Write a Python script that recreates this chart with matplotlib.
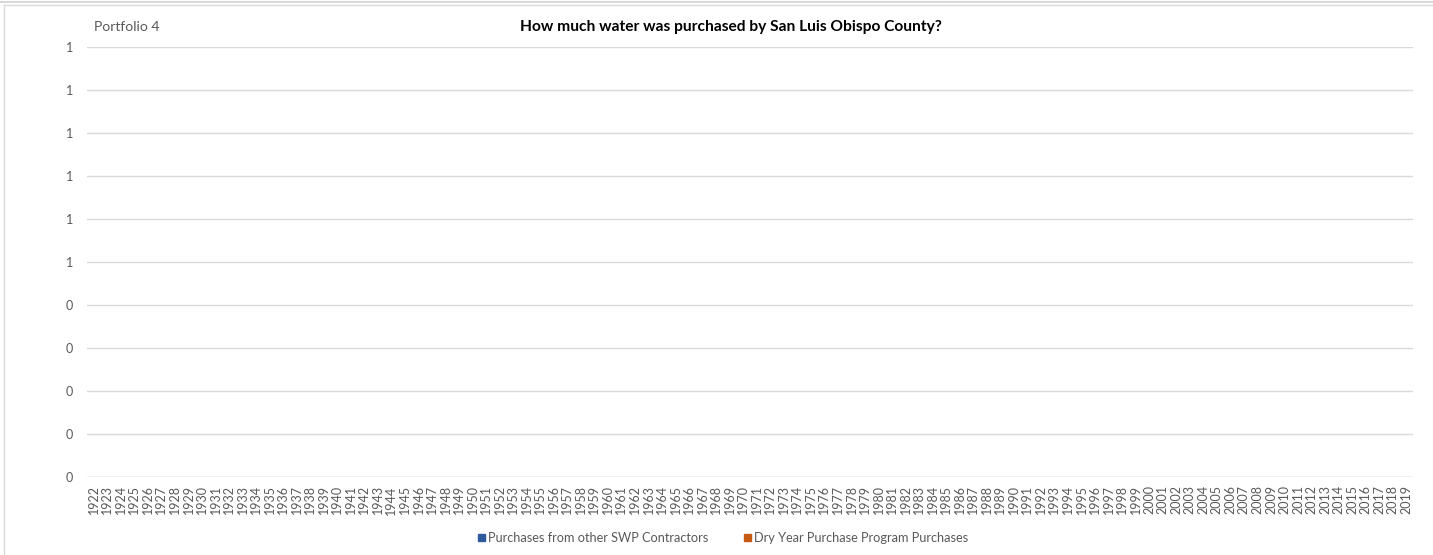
import matplotlib.pyplot as plt
import numpy as np
from matplotlib.lines import Line2D
from matplotlib.patches import Patch

plt.rcParams['font.family'] = ['Lato', 'DejaVu Sans']

years = [str(y) for y in range(1922, 2020)]
# the chart holds no data: both series are empty
swp_contractors = [0] * len(years)
dry_year_program = [0] * len(years)
series_names = ["Purchases from other SWP Contractors", "Dry Year Purchase Program Purchases"]
series_colors = ["#2F5A9E", "#C55A11"]
y_ticks = [0, 0.1, 0.2, 0.3, 0.4, 0.5, 0.6, 0.7, 0.8, 0.9, 1.0]

W, H = 1433, 555
fig = plt.figure(figsize=(W / 100, H / 100), dpi=100)
ax = fig.add_axes([87 / W, 1 - 477 / H, (1413 - 87) / W, (477 - 47) / H])

x = np.arange(len(years))
ax.bar(x, swp_contractors, width=0.6, color=series_colors[0])
ax.bar(x, dry_year_program, width=0.6, bottom=swp_contractors, color=series_colors[1])

ax.set_xlim(-0.5, len(years) - 0.5)
ax.set_ylim(0, 1)
ax.set_yticks(y_ticks)
ax.set_yticklabels([str(int(np.floor(v + 0.5 + 1e-9))) for v in y_ticks])
ax.set_xticks(x)
ax.set_xticklabels(years, rotation=90)
ax.tick_params(axis='both', length=0, labelsize=9, colors='#595959')
ax.tick_params(axis='y', pad=10)
ax.tick_params(axis='x', pad=6)
ax.grid(axis='y', color='#D9D9D9', linewidth=1)
ax.set_axisbelow(True)
for s in ax.spines.values():
    s.set_visible(False)
ax.axhline(0, color='#D9D9D9', linewidth=1)

fig.text(94 / W, 1 - 27 / H, "Portfolio 4", fontsize=10, color='#595959', va='center', ha='left')
fig.text(731 / W, 1 - 27 / H, "How much water was purchased by San Luis Obispo County?",
         fontsize=11.2, fontweight='bold', color='black', va='center', ha='center')

handles = [Patch(facecolor=c, edgecolor=c) for c in series_colors]
fig.legend(handles, series_names, loc='center', bbox_to_anchor=(723 / W, 1 - 538 / H),
           ncol=2, frameon=False, fontsize=9.2, handlelength=0.55, handleheight=0.55,
           handletextpad=0.25, columnspacing=2.8, labelcolor='#595959')

# outer frame lines
fig.add_artist(Line2D([0, 1], [1 - 1.5 / H, 1 - 1.5 / H], transform=fig.transFigure, color='#D9D9D9', lw=1.5))
fig.add_artist(Line2D([4 / W, 1], [1 - 5 / H, 1 - 5 / H], transform=fig.transFigure, color='#D9D9D9', lw=1))
fig.add_artist(Line2D([4 / W, 4 / W], [0, 1 - 5 / H], transform=fig.transFigure, color='#D9D9D9', lw=1))

fig.savefig("out.png", dpi=100)
